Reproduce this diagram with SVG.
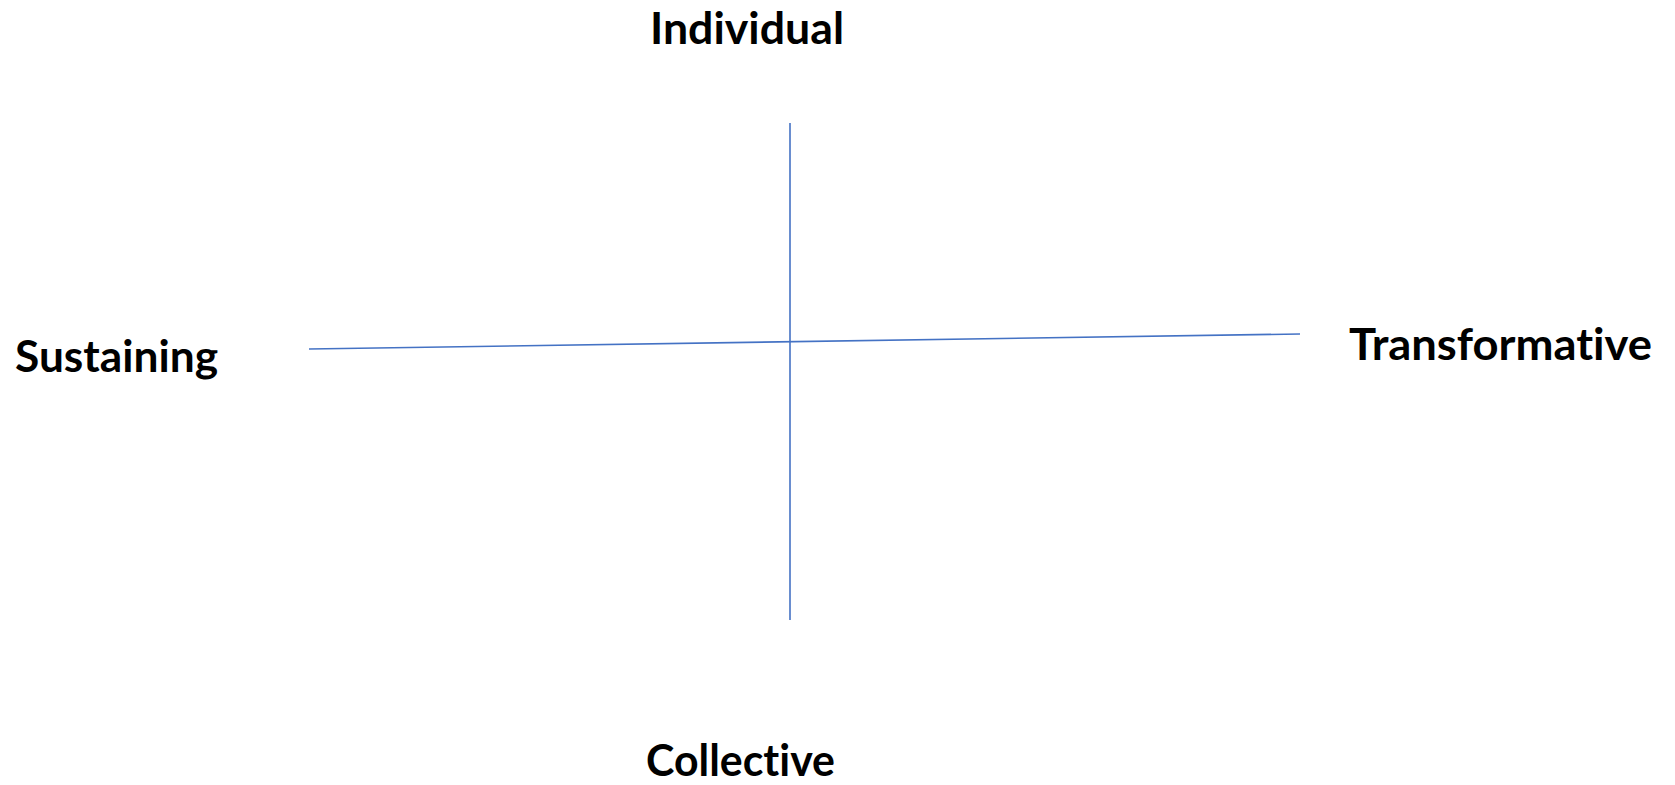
<svg xmlns="http://www.w3.org/2000/svg" width="1675" height="785" viewBox="0 0 1675 785">
<style>
.lbl{font-family:Lato,"Liberation Sans",sans-serif;font-weight:bold;font-size:44px;fill:#000;font-variant-ligatures:none;font-feature-settings:"liga" 0,"dlig" 0,"clig" 0}
.axis{stroke:#4472C4;stroke-width:1.6;fill:none}
</style>
<rect width="1675" height="785" fill="#fff"/>
<g id="connectors">
<line class="axis" x1="790" y1="123" x2="790" y2="620"/>
<line class="axis" x1="309" y1="349" x2="1300" y2="334"/>
</g>
<g id="individual"><text class="lbl" x="650" y="44" textLength="194" lengthAdjust="spacingAndGlyphs">Individual</text></g>
<g id="sustaining"><text class="lbl" x="15" y="372" textLength="203" lengthAdjust="spacingAndGlyphs">Sustaining</text></g>
<g id="transformative"><text class="lbl" x="1349" y="360" textLength="303" lengthAdjust="spacingAndGlyphs">Transformative</text></g>
<g id="collective"><text class="lbl" x="646" y="776" textLength="189" lengthAdjust="spacingAndGlyphs">Collective</text></g>
</svg>
